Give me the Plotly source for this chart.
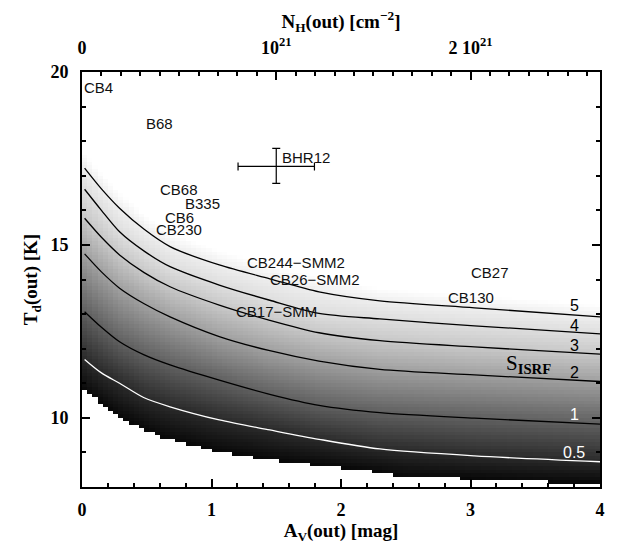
import numpy as np
import plotly.graph_objects as go

# ---- contour curves S_ISRF: Td(out) vs Av(out)
av_pts = [0.02, 0.15, 0.29, 0.48, 0.68, 1.06, 1.45, 1.83, 2.30, 3.03, 4.0]
td_s05 = [11.69, 11.30, 11.00, 10.58, 10.32, 9.94, 9.65, 9.38, 9.10, 8.90, 8.73]
td_s1 = [13.07, 12.62, 12.20, 11.82, 11.53, 11.09, 10.68, 10.36, 10.15, 9.99, 9.82]
td_s2 = [14.74, 14.22, 13.75, 13.30, 12.92, 12.35, 11.94, 11.64, 11.40, 11.24, 11.05]
td_s3 = [15.77, 15.22, 14.71, 14.20, 13.79, 13.26, 12.82, 12.46, 12.23, 12.05, 11.84]
td_s4 = [16.61, 16.00, 15.38, 14.82, 14.37, 13.84, 13.40, 13.02, 12.86, 12.66, 12.43]
td_s5 = [17.22, 16.62, 16.06, 15.45, 14.95, 14.42, 14.02, 13.64, 13.38, 13.18, 12.92]
s_levels = [0.5, 1, 2, 3, 4, 5]
level_labels = ["0.5", "1", "2", "3", "4", "5"]
label_td = [9.01, 10.10, 11.32, 12.08, 12.68, 13.26]
label_colors = ["white", "white", "black", "black", "black", "black"]

# lower edge of the computed grid
av_edge = [0.0, 0.3, 0.6, 1.0, 1.5, 2.0, 2.3, 2.5, 3.0, 3.65, 4.0]
td_edge = [10.83, 9.99, 9.45, 9.05, 8.75, 8.55, 8.42, 8.30, 8.24, 8.14, 8.12]

# grey level attached to each S value
gray_s = [0.25, 0.5, 1, 2, 3, 4, 5, 6.5]
gray_val = [8, 42, 96, 160, 200, 222, 238, 255]

# ---- sources
src_names = ["CB4", "B68", "CB68", "B335", "CB6", "CB230", "CB244−SMM2",
             "CB26−SMM2", "CB17−SMM", "CB27", "CB130"]
src_av = [0.0, 0.60, 0.75, 0.93, 0.75, 0.75, 1.65, 1.80, 1.50, 3.15, 3.00]
src_td = [19.54, 18.50, 16.59, 16.20, 15.79, 15.45, 14.49, 13.99, 13.07, 14.21, 13.49]

bhr_av, bhr_td = 1.50, 17.27
bhr_xerr = 0.295
bhr_yerr_plus, bhr_yerr_minus = 0.52, 0.49

# ---- build the shaded field from the contour curves
curves = [td_s05, td_s1, td_s2, td_s3, td_s4, td_s5]
av_grid = np.arange(0.02, 4.0, 0.04)
td_grid = np.arange(8.05, 20.0, 0.1)
z = np.full((len(td_grid), len(av_grid)), np.nan)
lnS = np.log([0.25] + s_levels + [6.5])
for j, a in enumerate(av_grid):
    tb = np.interp(a, av_edge, td_edge)
    tc = [np.interp(a, av_pts, c) for c in curves]
    tw = tc[-1] + 0.7 * (tc[-1] - tc[-2])
    knots = [tb] + tc + [tw]
    for i, t in enumerate(td_grid):
        if t >= tb:
            z[i, j] = np.interp(t, knots, lnS)

zmin, zmax = np.log(gray_s[0]), np.log(gray_s[-1])
colorscale = [[(np.log(s) - zmin) / (zmax - zmin), f"rgb({g},{g},{g})"]
              for s, g in zip(gray_s, gray_val)]

fig = go.Figure()
fig.add_trace(go.Heatmap(x=av_grid, y=td_grid, z=z, colorscale=colorscale,
                         zmin=zmin, zmax=zmax, showscale=False, zsmooth=False,
                         hoverinfo="skip"))
for s, c in zip(s_levels, curves):
    fig.add_trace(go.Scatter(x=av_pts, y=c, mode="lines",
                             line=dict(color="white" if s == 0.5 else "black",
                                       width=1.3, shape="spline", smoothing=0.8),
                             hoverinfo="skip", showlegend=False))

fig.add_trace(go.Scatter(x=[bhr_av], y=[bhr_td], mode="markers",
                         marker=dict(size=1, color="black"),
                         error_x=dict(type="constant", value=bhr_xerr, color="black",
                                      thickness=1.2, width=4),
                         error_y=dict(type="data", symmetric=False,
                                      array=[bhr_yerr_plus], arrayminus=[bhr_yerr_minus],
                                      color="black", thickness=1.2, width=4),
                         showlegend=False, hoverinfo="skip"))

# invisible trace to activate the top axis
fig.add_trace(go.Scatter(x=[0, 2.6e21], y=[8, 8], xaxis="x2", mode="markers",
                         marker=dict(opacity=0), showlegend=False, hoverinfo="skip"))

ann = []
sans = dict(family="Liberation Sans", size=15, color="#111")
for n, a, t in zip(src_names, src_av, src_td):
    ann.append(dict(x=a, y=t, text=n, showarrow=False, font=sans,
                    xanchor="left" if n == "CB4" else "center", yanchor="middle"))
ann.append(dict(x=1.53, y=17.52, text="BHR12", showarrow=False, font=sans,
                xanchor="left", yanchor="middle"))
for lab, t, col in zip(level_labels, label_td, label_colors):
    ann.append(dict(x=3.80, y=t, text=lab, showarrow=False,
                    font=dict(family="Liberation Sans", size=16, color=col),
                    xanchor="center", yanchor="middle"))
ann.append(dict(x=3.45, y=11.55, text="S<sub><b>ISRF</b></sub>", showarrow=False,
                font=dict(family="Liberation Serif", size=21, color="black"),
                xanchor="center", yanchor="middle"))

serif_tick = dict(family="Liberation Serif", size=18, color="black", weight="bold")
serif_title = dict(family="Liberation Serif", size=19, color="black", weight="bold")

# the page body adds an 8 px offset, so the figure is 8 px smaller than the window
fig.update_layout(
    width=615, height=536,
    margin=dict(l=74, r=23, t=64, b=57),
    paper_bgcolor="white", plot_bgcolor="white",
    showlegend=False,
    annotations=ann,
    xaxis=dict(range=[0, 4], tickvals=[0, 1, 2, 3, 4], ticks="inside", ticklen=8,
               tickwidth=1.5, tickcolor="black", automargin=False, ticklabelstandoff=5,
               minor=dict(dtick=0.2, ticks="inside", ticklen=4, tickcolor="black"),
               showline=True, linewidth=2, linecolor="black", mirror=False,
               showgrid=False, zeroline=False, tickfont=serif_tick,
               title=dict(text="A<sub>V</sub>(out) [mag]", font=serif_title, standoff=2)),
    xaxis2=dict(overlaying="x", side="top", range=[0, 4 / 1.5e-21],
                tickvals=[0, 1e21, 2e21], ticktext=["0", "10<sup>21</sup>", "2 10<sup>21</sup>"],
                ticks="inside", ticklen=8, tickwidth=1.5, tickcolor="black",
                automargin=False, ticklabelstandoff=9,
                minor=dict(dtick=1e20, ticks="inside", ticklen=4, tickcolor="black"),
                showline=True, linewidth=2, linecolor="black",
                showgrid=False, zeroline=False, tickfont=serif_tick,
                title=dict(text="N<sub>H</sub>(out) [cm<sup>−2</sup>]", font=serif_title, standoff=3)),
    yaxis=dict(range=[8, 20], tickvals=[10, 15, 20], ticks="inside", ticklen=8,
               tickwidth=1.5, tickcolor="black", automargin=False, ticklabelstandoff=8,
               minor=dict(dtick=1, ticks="inside", ticklen=4, tickcolor="black"),
               showline=True, linewidth=2, linecolor="black", mirror="ticks",
               showgrid=False, zeroline=False, tickfont=serif_tick,
               title=dict(text="T<sub>d</sub>(out) [K]", font=serif_title, standoff=8)),
)

fig.write_html("out.html")
